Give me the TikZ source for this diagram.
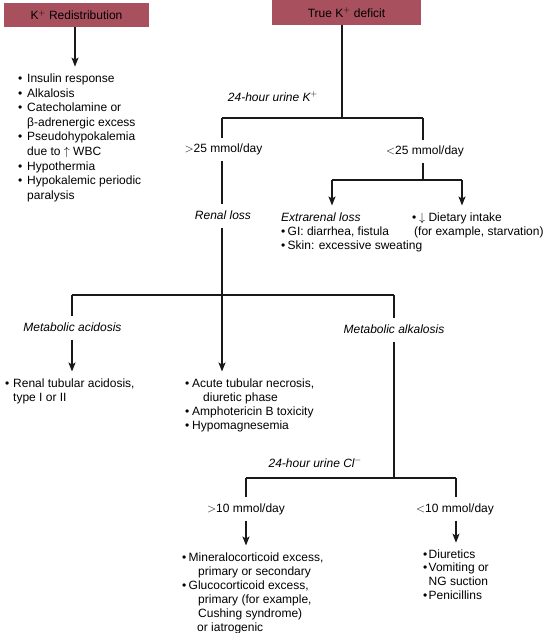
\documentclass[tikz,border=0pt]{standalone}
\usepackage{fontspec}
\setmainfont{Liberation Sans}
\usetikzlibrary{arrows.meta}
\definecolor{boxred}{RGB}{168,80,94}
\newcommand{\bul}[1]{\makebox[#1][l]{•}}
\newcommand{\lstx}[1]{\begin{tabular}[t]{@{}l@{}}#1\end{tabular}}
\begin{document}
\begin{tikzpicture}[x=1pt,y=-1pt,
  every node/.style={font=\fontsize{12}{14}\selectfont, inner sep=0pt},
  box/.style={fill=boxred, minimum height=24pt},
  lbl/.style={anchor=base, text height=9pt, text depth=3pt, inner ysep=5.5pt},
  lstnode/.style={anchor=base west},
  ln/.style={line width=1.2pt, draw=black!90},
  arr/.style={ln, -{Stealth[length=9pt,width=7pt,inset=2pt]}, shorten >=5.5pt}
]
\useasboundingbox (0,0) rectangle (545,633);

% top boxes
\node[box, minimum width=145pt] (redis) at (76.5,15) {K$^{+}$ Redistribution};
\node[box, minimum width=149pt, minimum height=25pt] (tdef) at (346.5,12.5) {True K$^{+}$ deficit};

% redistribution list
\node[lstnode, font=\fontsize{12}{14.6}\selectfont] (rlist) at (18,82.5) {\lstx{\bul{9pt}Insulin response\\ \bul{9pt}Alkalosis\\ \bul{9pt}Catecholamine or\\ \hspace*{9pt}β-adrenergic excess\\ \bul{9pt}Pseudohypokalemia\\ \hspace*{9pt}due to $\uparrow$ WBC\\ \bul{9pt}Hypothermia\\ \bul{9pt}Hypokalemic periodic\\ \hspace*{9pt}paralysis}};
\coordinate (jR) at (75,27);
\draw[arr] (redis.south -| jR) -- (jR |- rlist.north);

% true deficit branch
\coordinate (jK) at (342,118);
\coordinate (jKL) at (222,118);
\coordinate (jKR) at (423,118);
\draw[ln] (tdef.south -| jK) -- (jK);
\draw[ln] (jKL) -- (jKR);
\node[anchor=base east] (uk) at (318,101) {\textit{24-hour urine K$^{+}$}};

\node[lbl] (hi25) at (223.5,152.5) {$>$25 mmol/day};
\draw[ln] (jKL) -- (jKL |- hi25.north);
\node[lbl] (renal) at (223,219) {\textit{Renal loss}};
\draw[ln] (jKL |- hi25.south) -- (jKL |- renal.north);

\node[lbl] (lo25) at (425,154.5) {$<$25 mmol/day};
\draw[ln] (jKR) -- (jKR |- lo25.north);
\coordinate (jE) at (423,180);
\coordinate (jEL) at (332,180);
\coordinate (jER) at (462,180);
\draw[ln] (jKR |- lo25.south) -- (jE);
\draw[ln] (jEL) -- (jER);
\node[lstnode] (extr) at (281,221) {\lstx{\textit{Extrarenal loss}\\ \bul{6.5pt}GI: diarrhea, fistula\\ \bul{6.5pt}Skin: excessive sweating}};
\node[lstnode] (diet) at (412,221) {\lstx{\bul{7pt}$\downarrow$ Dietary intake\\ \hspace*{2pt}(for example, starvation)}};
\draw[arr] (jEL) -- (jEL |- extr.north);
\draw[arr] (jER) -- (jER |- diet.north);

% renal loss branch
\coordinate (jML) at (72,295);
\coordinate (jMR) at (394,295);
\draw[ln] (jML) -- (jMR);
\node[lstnode] (mid) at (185,387) {\lstx{\bul{7pt}Acute tubular necrosis,\\ \hspace*{18pt}diuretic phase\\ \bul{7pt}Amphotericin B toxicity\\ \bul{7pt}Hypomagnesemia}};
\draw[arr] (jKL |- renal.south) -- (jKL |- mid.north);

\node[lbl] (macid) at (72.5,331) {\textit{Metabolic acidosis}};
\draw[ln] (jML) -- (jML |- macid.north);
\node[lstnode] (rta) at (5,387) {\lstx{\bul{8pt}Renal tubular acidosis,\\ \hspace*{8pt}type I or II}};
\draw[arr] (jML |- macid.south) -- (jML |- rta.north);

\node[lbl] (malk) at (394,333) {\textit{Metabolic alkalosis}};
\draw[ln] (jMR) -- (jMR |- malk.north);
\coordinate (jC) at (394,478);
\coordinate (jCL) at (246,478);
\coordinate (jCR) at (456,478);
\draw[ln] (jMR |- malk.south) -- (jC);
\draw[ln] (jCL) -- (jCR);
\node[anchor=base east] (ucl) at (362,467) {\textit{24-hour urine Cl$^{-}$}};

\node[lbl] (hi10) at (246,512) {$>$10 mmol/day};
\node[lbl] (lo10) at (455,512) {$<$10 mmol/day};
\draw[ln] (jCL) -- (jCL |- hi10.north);
\draw[ln] (jCR) -- (jCR |- lo10.north);
\node[lstnode] (mineral) at (182,561) {\lstx{\bul{6.5pt}Mineralocorticoid excess,\\ \hspace*{16pt}primary or secondary\\ \bul{6.5pt}Glucocorticoid excess,\\ \hspace*{16pt}primary (for example,\\ \hspace*{16pt}Cushing syndrome)\\ \hspace*{15pt}or iatrogenic}};
\node[lstnode, font=\fontsize{12}{13.7}\selectfont] (diur) at (423,558) {\lstx{\bul{5.5pt}Diuretics\\ \bul{5.5pt}Vomiting or\\ \hspace*{5.5pt}NG suction\\ \bul{5.5pt}Penicillins}};
\draw[arr] (jCL |- hi10.south) -- (jCL |- mineral.north);
\draw[arr] (jCR |- lo10.south) -- (jCR |- diur.north);
\end{tikzpicture}
\end{document}
